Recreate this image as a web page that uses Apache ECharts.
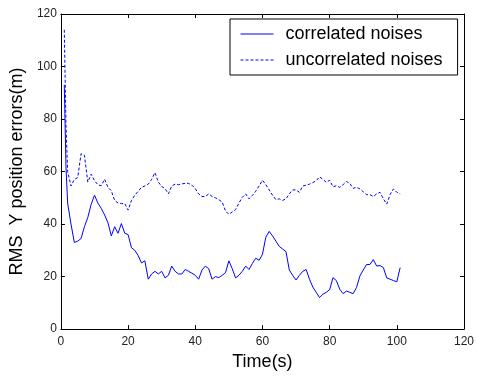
<!DOCTYPE html>
<html>
<head>
<meta charset="utf-8">
<script src="https://cdn.jsdelivr.net/npm/echarts@6/dist/echarts.min.js"></script>
<style>html,body{margin:0;padding:0;background:#fff}#c{width:477px;height:376px}</style>
</head>
<body>
<div id="c"></div>
<script>
var seriesNames = ['correlated noises', 'uncorrelated noises'];
var time = [1, 1.5, 2, 3, 4, 5, 6, 7, 8, 9, 10, 11, 12, 13, 14, 15, 16, 17, 18, 19, 20,
  21, 22, 23, 24, 25, 26, 27, 28, 29, 30, 31, 32, 33, 34, 35, 36, 37, 38, 39, 40,
  41, 42, 43, 44, 45, 46, 47, 48, 49, 50, 51, 52, 53, 54, 55, 56, 57, 58, 59, 60,
  61, 62, 63, 64, 65, 66, 67, 68, 69, 70, 71, 72, 73, 74, 75, 76, 77, 78, 79, 80,
  81, 82, 83, 84, 85, 86, 87, 88, 89, 90, 91, 92, 93, 94, 95, 96, 97, 98, 99, 100, 101];
var correlated = [93, 62, 48, 40, 33, 33.5, 34.5, 39, 42.5, 47.5, 51,
  48, 46, 43.5, 40.5, 35.5, 39, 36.5, 40.2, 36.5, 36,
  31, 30, 28, 25.2, 26, 19, 21, 22, 21, 22,
  19.5, 20.5, 24, 22, 21, 21, 22.7, 22, 21.3, 20.5,
  19, 22.5, 24, 23, 19, 20, 19.6, 20.5, 21.5, 26,
  23, 19.5, 20.5, 22, 24, 22.7, 25, 27, 26.2, 28.5,
  35, 37.2, 35.5, 33.5, 31.5, 30.5, 29.5, 22.5, 20.5, 18.7,
  20.5, 22, 22.7, 19, 16, 14, 12, 13.3, 14, 15,
  19.6, 18.5, 15.2, 13.5, 14.5, 14, 13.5, 15.8, 20.2, 22.5,
  24.6, 24.6, 26.5, 24, 24.2, 23.4, 19.5, 19, 18.5, 18, 23.4];
var uncorrelated = [114, 78, 60, 54.5, 57, 57.7, 66.8, 66.2, 56, 59, 56.5,
  55, 54.6, 57.1, 54, 52.7, 49, 48, 47.8, 47.8, 45.3,
  49, 51, 52.5, 54, 54.5, 55.2, 57, 59.6, 56, 54.3,
  53.5, 51.5, 54.5, 55.2, 55, 55.3, 55.5, 55.5, 54.8, 53.5,
  51.5, 50.5, 50.5, 51.5, 50.5, 50, 49.3, 48.4, 45, 43.7,
  44.6, 45.5, 48, 50.2, 51.5, 49.6, 50.9, 52.5, 54.5, 56.7,
  55, 53, 51, 49.3, 49.6, 49, 49.6, 51.5, 53, 53,
  52.1, 54.5, 54.8, 55.2, 55.8, 56.5, 58, 57, 55.9, 56.7,
  54.2, 54.6, 54, 55, 56.2, 55.5, 53.6, 54, 53.4, 52.3,
  51.2, 51.2, 50.5, 51.5, 52.1, 49.6, 47.6, 51.2, 53.4, 52.1, 51.5];
var xTitle = 'Time(s)';
var yTitle = 'RMS  Y position errors(m)';

function pairs(vals) { return time.map(function (t, i) { return [t, vals[i]]; }); }

var FONT = "'Liberation Sans', Arial, sans-serif";
var chart = echarts.init(document.getElementById('c'), null, {renderer: 'canvas'});
var tickLabel = {color: '#222', fontSize: 12, fontFamily: FONT};
chart.setOption({
  backgroundColor: '#fff',
  animation: false,
  grid: {left: 57, top: 14, right: 12, bottom: 42, show: false},
  legend: {
    orient: 'vertical', left: 230, top: 19,
    backgroundColor: '#fff', borderColor: '#000', borderWidth: 1,
    padding: [6, 15, 6, 10], itemGap: 8, itemWidth: 33, itemHeight: 14,
    itemStyle: {color: 'rgba(0,0,0,0)', borderWidth: 0, opacity: 0},
    lineStyle: {width: 1},
    textStyle: {fontFamily: FONT, fontSize: 18, color: '#000', padding: [0, 0, 0, 7]},
    data: seriesNames
  },
  xAxis: [{
    type: 'value', min: 0, max: 120, interval: 20,
    name: xTitle, nameLocation: 'middle', nameGap: 21,
    nameTextStyle: {fontFamily: FONT, fontSize: 18, color: '#000'},
    axisLine: {show: true, onZero: false, lineStyle: {color: '#000', width: 1}},
    axisTick: {show: true, inside: true, length: 4, lineStyle: {color: '#000'}},
    axisLabel: Object.assign({margin: 7}, tickLabel),
    splitLine: {show: false}
  }, {
    type: 'value', min: 0, max: 120, interval: 20, position: 'top',
    axisLine: {show: true, onZero: false, lineStyle: {color: '#000', width: 1}},
    axisTick: {show: true, inside: true, length: 4, lineStyle: {color: '#000'}},
    axisLabel: {show: false}, splitLine: {show: false}
  }],
  yAxis: [{
    type: 'value', min: 0, max: 120, interval: 20,
    name: yTitle, nameLocation: 'middle', nameGap: 24, nameRotate: 90,
    nameTextStyle: {fontFamily: FONT, fontSize: 18, color: '#000'},
    axisLine: {show: true, onZero: false, lineStyle: {color: '#000', width: 1}},
    axisTick: {show: true, inside: true, length: 4, lineStyle: {color: '#000'}},
    axisLabel: Object.assign({margin: 4}, tickLabel),
    splitLine: {show: false}
  }, {
    type: 'value', min: 0, max: 120, interval: 20, position: 'right',
    axisLine: {show: true, onZero: false, lineStyle: {color: '#000', width: 1}},
    axisTick: {show: true, inside: true, length: 4, lineStyle: {color: '#000'}},
    axisLabel: {show: false}, splitLine: {show: false}
  }],
  series: [{
    name: seriesNames[0], type: 'line', symbol: 'none', xAxisIndex: 0, yAxisIndex: 0,
    data: pairs(correlated),
    lineStyle: {color: '#0000ff', width: 1, type: 'solid'},
    itemStyle: {color: '#0000ff'}
  }, {
    name: seriesNames[1], type: 'line', symbol: 'none', xAxisIndex: 0, yAxisIndex: 0,
    data: pairs(uncorrelated),
    lineStyle: {color: '#0000ff', width: 1, type: [3, 2]},
    itemStyle: {color: '#0000ff'}
  }]
});
</script>
</body>
</html>
